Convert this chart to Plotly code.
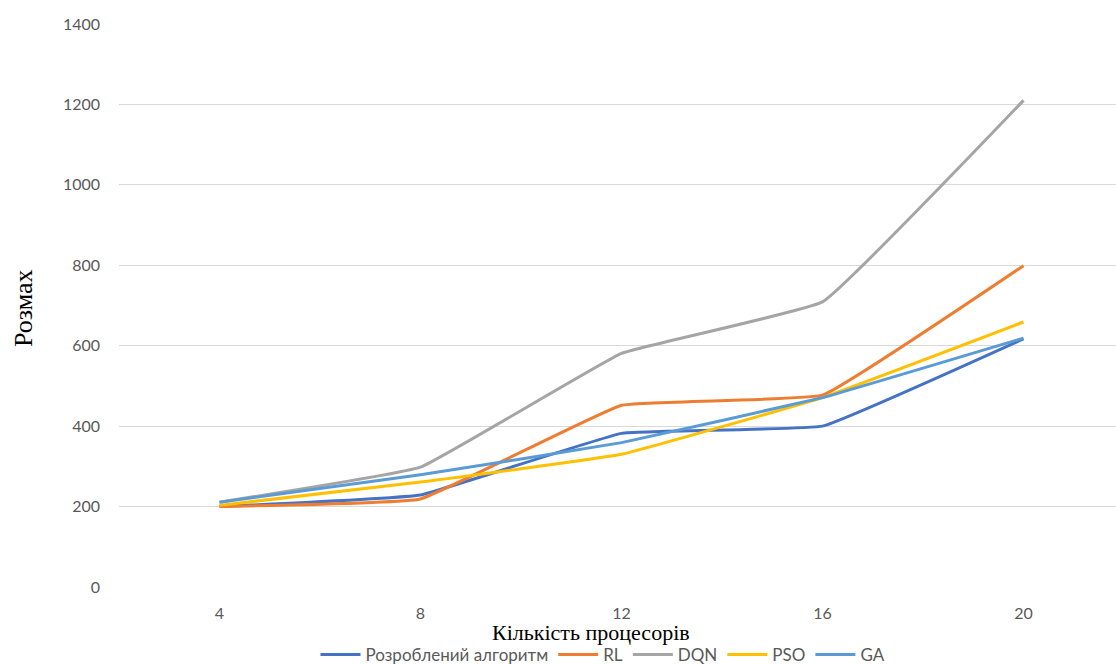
import plotly.graph_objects as go

processors = ["4", "8", "12", "16", "20"]
developed = [200, 229, 382, 400, 617]
rl = [200, 219, 452, 477, 799]
dqn = [211, 298, 581, 709, 1210]
pso = [203, 261, 330, 471, 659]
ga = [211, 279, 359, 471, 619]

series = [
    ("Розроблений алгоритм", developed, "#4472C4"),
    ("RL", rl, "#ED7D31"),
    ("DQN", dqn, "#A5A5A5"),
    ("PSO", pso, "#FFC000"),
    ("GA", ga, "#5B9BD5"),
]

W, H = 1116, 664
L, R, T, B = 119, 0, 24, 77
PW, PH = W - L - R, H - T - B

fig = go.Figure()
for name, vals, color in series:
    fig.add_trace(go.Scatter(
        x=list(range(len(processors))), y=vals, name=name, mode="lines",
        line=dict(color=color, width=3, shape="spline", smoothing=0.25),
    ))

tick_font = dict(family="Lato, Open Sans, sans-serif", size=16, color="#595959")
serif = "Liberation Serif, Times New Roman, serif"

fig.update_layout(
    width=W, height=H,
    margin=dict(l=L, r=R, t=T, b=B, autoexpand=False),
    plot_bgcolor="white", paper_bgcolor="white",
    showlegend=True,
    legend=dict(
        orientation="h", x=(603 - L) / PW, xanchor="center",
        yref="container", y=(H - 655) / H, yanchor="middle",
        font=dict(family="Lato, Open Sans, sans-serif", size=17, color="#595959"),
        itemwidth=40, tracegroupgap=0, borderwidth=0,
    ),
    xaxis=dict(
        tickmode="array", tickvals=list(range(len(processors))), ticktext=processors,
        range=[-0.5, 4.46], showgrid=False, zeroline=False, showline=False,
        tickfont=tick_font, ticklabelstandoff=15, fixedrange=True, automargin=False,
    ),
    yaxis=dict(
        range=[0, 1400], dtick=200, showgrid=True, gridcolor="#D9D9D9", gridwidth=1,
        zeroline=False, showline=False, tickfont=tick_font, ticklabelstandoff=18,
        automargin=False,
    ),
    annotations=[
        dict(text="Розмах", x=(23 - L) / PW, y=(H - B - 308) / PH,
             xref="paper", yref="paper", xanchor="center", yanchor="middle",
             showarrow=False, textangle=-90,
             font=dict(family=serif, size=26, color="black")),
        dict(text="Кількість процесорів", x=(591 - L) / PW, y=(H - B - 632) / PH,
             xref="paper", yref="paper", xanchor="center", yanchor="middle",
             showarrow=False,
             font=dict(family=serif, size=22, color="black")),
    ],
)

fig.write_html("out.html")
